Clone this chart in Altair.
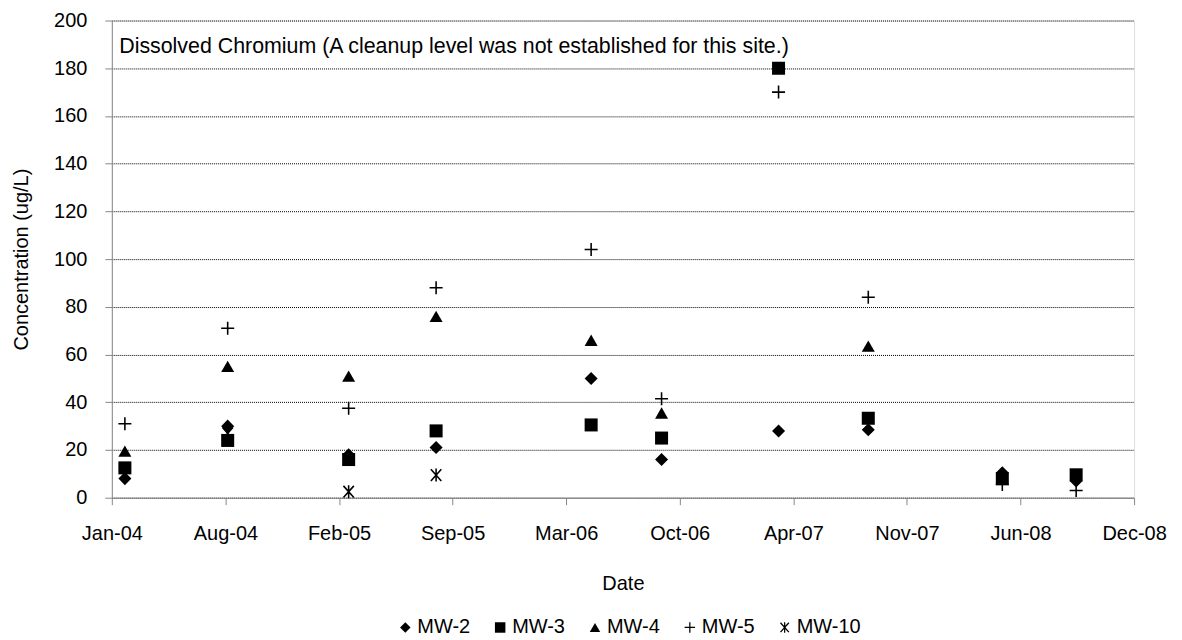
import altair as alt
import pandas as pd

# Sampling dates
dates = ["2004-02-06", "2004-08-05", "2005-03-06", "2005-08-07", "2006-05-07",
         "2006-09-08", "2007-04-02", "2007-09-07", "2008-04-30", "2008-09-07"]

mw2 = [8, 30, 18, 21, 50, 16, 28, 28.5, 10.5, 7]
mw3 = [12.5, 24, 16, 28, 30.5, 25, 180, 33.3, 8, 9.6]
mw4 = [19.5, 55, 51, 76, 66, 35.5, None, 63.5, None, None]
mw5 = [31, 71, 37.5, 88, 104, 41.5, 170, 84, 5.5, 3]
mw10 = [None, 27, 2.5, 9.5, None, None, None, None, None, None]

series_names = ["MW-2", "MW-3", "MW-4", "MW-5", "MW-10"]
series_values = [mw2, mw3, mw4, mw5, mw10]
PLUS = "M-1,-0.12H-0.12V-1H0.12V-0.12H1V0.12H0.12V1H-0.12V0.12H-1Z"
ASTER = ("M-0.89,-0.82L0.71,0.98L0.89,0.82L-0.71,-0.98Z"
         "M-0.71,0.98L0.89,-0.82L0.71,-0.98L-0.89,0.82Z"
         "M-0.12,-1V1H0.12V-1Z")
shapes = ["diamond", "square", "triangle-up", PLUS, ASTER]

tick_dates = ["2004-01-14", "2004-08-01", "2005-02-17", "2005-09-05", "2006-03-24",
              "2006-10-10", "2007-04-28", "2007-11-14", "2008-06-01", "2008-12-18"]
y_ticks = list(range(0, 201, 20))

annotation = "Dissolved Chromium (A cleanup level was not established for this site.)"
annotation_date = "2004-01-27"
annotation_value = 189

rows = []
for name, vals in zip(series_names, series_values):
    for d, v in zip(dates, vals):
        if v is not None:
            rows.append({"date": d + "T00:00:00", "value": v, "series": name})
df = pd.DataFrame(rows)


def dt(s):
    y, m, d = s.split("-")
    return alt.DateTime(year=int(y), month=int(m), date=int(d))


FONT = "Liberation Sans"

x_enc = alt.X(
    "date:T",
    title="Date",
    scale=alt.Scale(domain=[dt(tick_dates[0]), dt(tick_dates[-1])], nice=False),
    axis=alt.Axis(values=[dt(t) for t in tick_dates], format="%b-%y", grid=False,
                  tickSize=7, labelPadding=19, titlePadding=30,
                  labelFontSize=20, titleFontSize=20, labelFlush=False,
                  titleFontWeight="normal"),
)
y_enc = alt.Y(
    "value:Q",
    title="Concentration (ug/L)",
    scale=alt.Scale(domain=[0, 200], nice=False),
    axis=alt.Axis(values=y_ticks, tickSize=7, labelPadding=18, titlePadding=22,
                  labelFontSize=20, titleFontSize=20, grid=True,
                  titleFontWeight="normal",
                  gridColor="#000000", gridDash=[1, 1], gridWidth=1),
)

points = alt.Chart(df).mark_point(
    filled=True, fill="black", strokeWidth=0, opacity=1, size=170
).encode(
    x=x_enc,
    y=y_enc,
    shape=alt.Shape(
        "series:N",
        scale=alt.Scale(domain=series_names, range=shapes),
        sort=series_names,
        legend=alt.Legend(
            title=None, orient="none", direction="horizontal",
            legendX=284, legendY=598,
            labelFontSize=20, labelFont=FONT, symbolSize=110,
            symbolFillColor="black", symbolStrokeWidth=0,
            labelOffset=2, columnPadding=20,
        ),
    ),
)

text = alt.Chart(pd.DataFrame({"t": [annotation]})).mark_text(
    align="left", baseline="middle", fontSize=21.4, font=FONT, color="black"
).encode(
    x=alt.datum(dt(annotation_date)),
    y=alt.datum(annotation_value),
    text="t:N",
)

chart = alt.layer(points, text).properties(
    width=1024, height=478,
    autosize=alt.AutoSizeParams(type="none"),
    padding={"left": 104, "top": 12, "right": 40, "bottom": 150},
).configure_view(
    stroke="#868686", strokeWidth=2
).configure_axis(
    labelFont=FONT, titleFont=FONT, labelColor="black", titleColor="black",
    domainColor="#6b6b6b", domainWidth=2,
    tickColor="#6b6b6b", tickWidth=1.5,
).configure(background="white")

chart.save("out.html", embed_options={"renderer": "svg", "actions": False})
